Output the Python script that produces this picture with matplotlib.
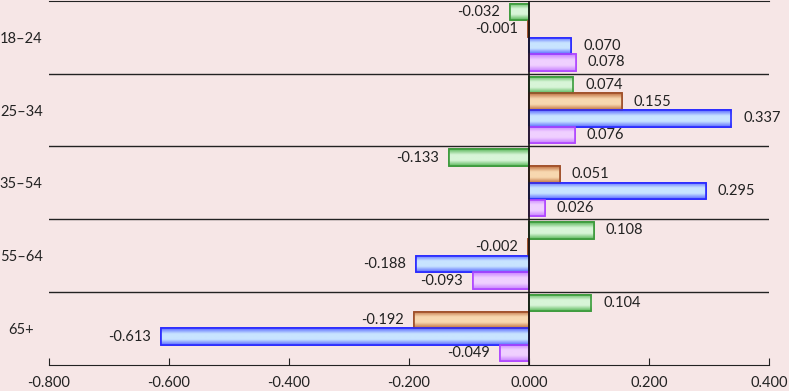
import numpy as np
import matplotlib
matplotlib.use("Agg")
import matplotlib.pyplot as plt
from matplotlib.colors import LinearSegmentedColormap

categories = ["18–24", "25–34", "35–54", "55–64", "65+"]
series_green = [-0.032, 0.074, -0.133, 0.108, 0.104]
series_orange = [-0.001, 0.155, 0.051, -0.002, -0.192]
series_blue = [0.070, 0.337, 0.295, -0.188, -0.613]
series_violet = [0.078, 0.076, 0.026, -0.093, -0.049]
xticks = [-0.8, -0.6, -0.4, -0.2, 0.0, 0.2, 0.4]

series = [series_green, series_orange, series_blue, series_violet]
# (edge colour, dark fill, light fill)
styles = [
    ("#3c9a3c", "#5cb85c", "#d8f5d8"),
    ("#a0502a", "#c07040", "#f8d8b0"),
    ("#2a2aff", "#5a6aff", "#c8e4ff"),
    ("#b048ff", "#c880ff", "#f0d0ff"),
]

bg = "#f6e6e6"
plt.rcParams["font.family"] = ["Lato", "DejaVu Sans"]

fig = plt.figure(figsize=(7.89, 3.91), dpi=100, facecolor=bg)
ax = fig.add_axes([49 / 789, 1 - 364.5 / 391, 720 / 789, 363.5 / 391])
ax.set_facecolor(bg)

n = len(series)
bh = 0.23
y = np.arange(len(categories))

for i, (vals, (ec, dark, light)) in enumerate(zip(series, styles)):
    offs = (i - (n - 1) / 2) * bh
    bars = ax.barh(y + offs, vals, height=bh * 0.98, color=light, edgecolor=ec, linewidth=1.2, zorder=3)
    cmap = LinearSegmentedColormap.from_list("g", [dark, light, light, dark])
    grad = np.linspace(0, 1, 64).reshape(-1, 1)
    for k, (b, v) in enumerate(zip(bars, vals)):
        x0 = b.get_x()
        w = b.get_width()
        y0 = b.get_y()
        h = b.get_height()
        if abs(w) > 0:
            im = ax.imshow(grad, cmap=cmap, aspect="auto",
                           extent=[min(x0, x0 + w), max(x0, x0 + w), y0 + h, y0],
                           zorder=3.5, interpolation="bicubic")
            im.set_clip_path(b)
            ax.add_patch(plt.Rectangle((x0, y0), w, h, fill=False, edgecolor=ec, linewidth=1.2, zorder=4))
        if v >= 0:
            ax.annotate(f"{v:.3f}", (v, y[k] + offs), xytext=(12, 0),
                        textcoords="offset pixels", ha="left", va="center", fontsize=10.5, color="#222222", zorder=5)
        else:
            ax.annotate(f"{v:.3f}", (v, y[k] + offs), xytext=(-10, 0),
                        textcoords="offset pixels", ha="right", va="center", fontsize=10.5, color="#222222", zorder=5)

ax.set_xlim(-0.8, 0.4)
ax.set_ylim(len(categories) - 0.5, -0.5)
for b in np.arange(0.5, len(categories) - 0.5, 1.0):
    ax.axhline(b, color="#222222", linewidth=1.0, zorder=2)
ax.axvline(0, color="#111111", linewidth=1.2, zorder=6)

ax.set_xticks(xticks)
ax.set_xticklabels([f"{t:.3f}" for t in xticks], fontsize=10.5, color="#222222")
ax.set_yticks(y)
ax.set_yticklabels(categories, fontsize=10.5, color="#222222", ha="center")
ax.tick_params(axis="y", length=0, pad=20)
ax.tick_params(axis="x", direction="in", length=5, color="#222222", pad=8)

for s in ["left", "right"]:
    ax.spines[s].set_visible(False)
ax.spines["top"].set_color("#222222")
ax.spines["bottom"].set_color("#222222")

fig.savefig("out.png", dpi=100, facecolor=bg)
